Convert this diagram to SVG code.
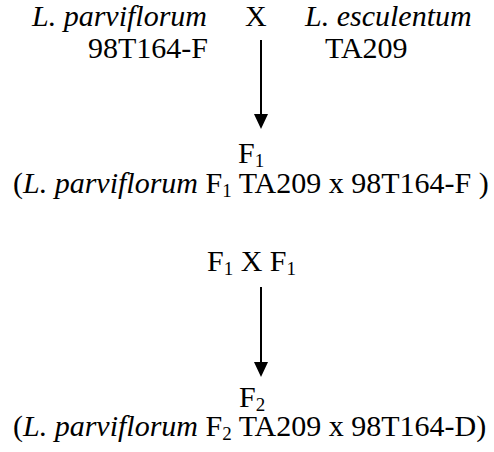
<svg xmlns="http://www.w3.org/2000/svg" width="494" height="452" viewBox="0 0 494 452">
<style>
.t{font-family:'Liberation Serif', serif;font-size:30px;fill:#000}
.i{font-style:italic}
.sub{font-size:19px}
.conn line{stroke:#000;stroke-width:2}
.conn polygon{fill:#000}
</style>
<rect width="494" height="452" fill="#fff"/>
<g class="t" font-family="Liberation Serif, serif">
<g id="parent1">
<text x="32" y="26" class="i">L. parviflorum</text>
<text x="88" y="58">98T164-F</text>
</g>
<g id="cross1"><text x="245" y="26">X</text></g>
<g id="parent2">
<text x="305" y="26" class="i">L. esculentum</text>
<text x="325" y="58">TA209</text>
</g>
<g id="f1">
<text x="238" y="163">F<tspan class="sub" dy="4">1</tspan></text>
<text x="13" y="193">(<tspan class="i">L. parviflorum</tspan> F<tspan class="sub" dy="4">1</tspan><tspan dy="-4"> TA209 x 98T164-F )</tspan></text>
</g>
<g id="cross2">
<text x="207" y="271">F<tspan class="sub" dy="4">1</tspan><tspan dy="-4"> X F</tspan><tspan class="sub" dy="4">1</tspan></text>
</g>
<g id="f2">
<text x="239" y="407">F<tspan class="sub" dy="4">2</tspan></text>
<text x="13" y="436">(<tspan class="i">L. parviflorum</tspan> F<tspan class="sub" dy="4">2</tspan><tspan dy="-4"> TA209 x 98T164-D)</tspan></text>
</g>
</g>
<g id="connectors" class="conn">
<line x1="261" y1="40" x2="261" y2="116"/>
<polygon points="254,114 268,114 261,129"/>
<line x1="261" y1="287" x2="261" y2="364"/>
<polygon points="254,362 268,362 261,377"/>
</g>
</svg>
